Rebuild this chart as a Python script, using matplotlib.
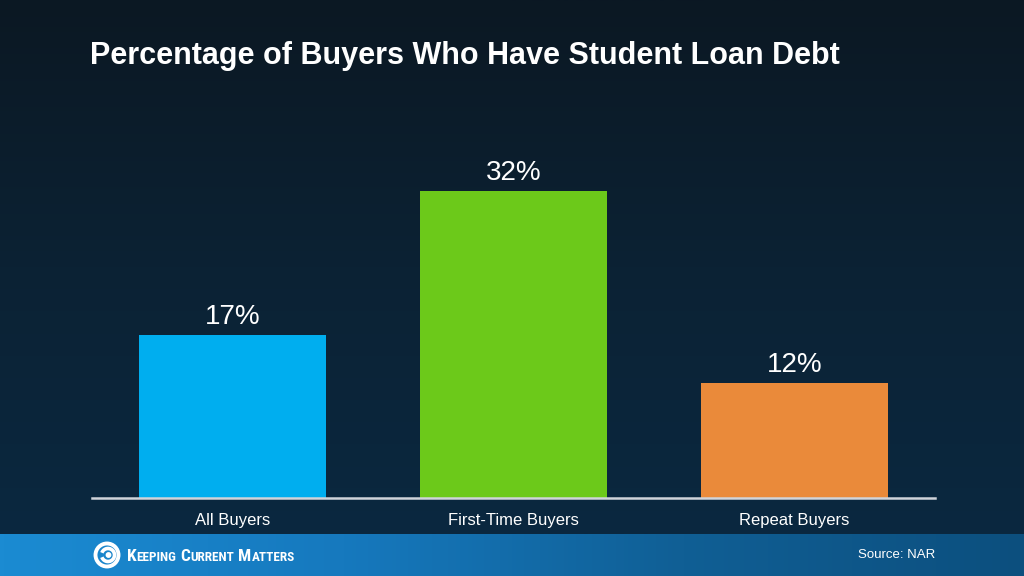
import matplotlib.pyplot as plt
import matplotlib.patches as mpatches
from matplotlib.colors import LinearSegmentedColormap
import numpy as np

# Data
categories = ['All Buyers', 'First-Time Buyers', 'Repeat Buyers']
shares = [17, 32, 12]
bar_colors = ['#00AEEF', '#6CC91A', '#EA8A3A']

title = 'Percentage of Buyers Who Have Student Loan Debt'
source = 'Source: NAR'
brand_words = ['Keeping', 'Current', 'Matters']

plt.rcParams['font.family'] = ['Liberation Sans', 'DejaVu Sans']
brand_font = ['Roboto Condensed', 'Liberation Sans', 'DejaVu Sans']

fig = plt.figure(figsize=(10.24, 5.76), dpi=100)

# Background axes in pixel coordinates (y down)
bg = fig.add_axes([0, 0, 1, 1], zorder=0)
bg.axis('off')
bg_cmap = LinearSegmentedColormap.from_list('bg', ['#0B1823', '#0C2234', '#0A2840'])
bg.imshow(np.linspace(0, 1, 256).reshape(-1, 1), aspect='auto', cmap=bg_cmap,
          extent=[0, 1024, 534, 0])

# Footer band with horizontal blue gradient
foot_cmap = LinearSegmentedColormap.from_list('foot', ['#1B8BD2', '#1679BE', '#105F95', '#0C4F7E'])
bg.imshow(np.linspace(0, 1, 256).reshape(1, -1), aspect='auto', cmap=foot_cmap,
          extent=[0, 1024, 576, 534])
bg.set_xlim(0, 1024)
bg.set_ylim(576, 0)

# Logo: swirl ring
cx, cy = 107, 555
bg.add_patch(mpatches.Circle((cx, cy), 11.5, fill=False, ec='white', lw=2.8, zorder=3))
bg.add_patch(mpatches.Arc((cx + 1, cy), 13, 13, theta1=200, theta2=520,
                          ec='white', lw=2.6, zorder=3))
bg.add_patch(mpatches.Circle((cx + 1.5, cy), 2.2, color='white', zorder=3))

# Wordmark in small caps
r = fig.canvas.get_renderer()
x = 127
for word in brand_words:
    t1 = bg.text(x, cy + 6, word[0], color='white', fontsize=12.5, fontweight='bold',
                 va='baseline', ha='left', family=brand_font, zorder=3)
    w1 = t1.get_window_extent(renderer=r).width
    t2 = bg.text(x + w1, cy + 6, word[1:].upper(), color='white', fontsize=9.5,
                 fontweight='bold', va='baseline', ha='left', family=brand_font, zorder=3)
    w2 = t2.get_window_extent(renderer=r).width
    x += w1 + w2 + 4

bg.text(935, cy, source, color='white', fontsize=9.5, ha='right', va='center', zorder=3)

# Title
bg.text(90, 64, title, color='white', fontsize=22, fontweight='bold',
        ha='left', va='baseline')

# Main bar chart
ax = fig.add_axes([92 / 1024, (576 - 498) / 576, 843 / 1024, 384 / 576], zorder=2)
ax.patch.set_alpha(0)
xpos = np.arange(len(categories))
bars = ax.bar(xpos, shares, width=0.665, color=bar_colors, zorder=3)
ax.set_xlim(-0.5, len(categories) - 0.5)
ax.set_ylim(0, 40)

for b, v in zip(bars, shares):
    ax.annotate(f'{v}%', (b.get_x() + b.get_width() / 2, v), xytext=(0, 7.5),
                textcoords='offset points', ha='center', va='baseline',
                color='white', fontsize=20)

ax.set_xticks(xpos)
ax.set_xticklabels(categories, color='white', fontsize=12)
ax.tick_params(axis='x', length=0, pad=11)
ax.set_yticks([])
for s in ['top', 'right', 'left']:
    ax.spines[s].set_visible(False)
ax.spines['bottom'].set_color('#D0D4DA')
ax.spines['bottom'].set_linewidth(1.8)
ax.spines['bottom'].set_zorder(4)

fig.savefig('out.png', dpi=100)
